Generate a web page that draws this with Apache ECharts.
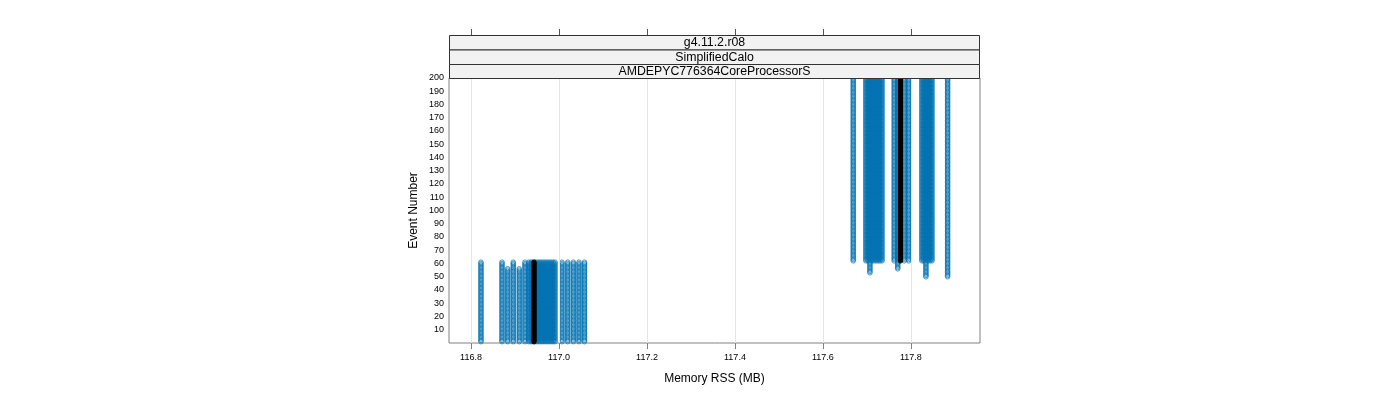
<!DOCTYPE html>
<html>
<head>
<meta charset="utf-8">
<script src="https://cdn.jsdelivr.net/npm/echarts@6/dist/echarts.min.js"></script>
<style>
html,body{margin:0;padding:0;background:#fff;}
#chart{width:1400px;height:400px;}
</style>
</head>
<body>
<div id="chart"></div>
<script>
// ---- data ----
var xTicks = [116.8, 117.0, 117.2, 117.4, 117.6, 117.8];
var yTicks = [10,20,30,40,50,60,70,80,90,100,110,120,130,140,150,160,170,180,190,200];
var stripLabels = ['g4.11.2.r08', 'SimplifiedCalo', 'AMDEPYC776364CoreProcessorS'];

// low-memory phase: memory (MB) of each run, and last event in that phase
var lowMem  = [116.8227, 116.8705, 116.8834, 116.8961, 116.9098, 116.9227, 116.9318,
               116.9364, 116.9409, 116.9455, 116.9500, 116.9545, 116.9591, 116.9636,
               116.9682, 116.9727, 116.9773, 116.9818, 116.9864, 116.9909, 117.0068,
               117.0198, 117.0327, 117.0455, 117.0580];
var lowLast = [61, 61, 56, 61, 56, 61, 61,
               61, 61, 61, 61, 61, 61, 61,
               61, 61, 61, 61, 61, 61, 61,
               61, 61, 61, 61];
// high-memory phase: memory (MB) of each run, and first event in that phase
var highMem   = [117.6689, 117.6977, 117.7023, 117.7068, 117.7114, 117.7159, 117.7205,
                 117.7250, 117.7295, 117.7341, 117.7620, 117.7700, 117.7848, 117.7950,
                 117.8250, 117.8295, 117.8341, 117.8386, 117.8432, 117.8477, 117.8834];
var highFirst = [62, 62, 62, 53, 62, 62, 62,
                 62, 62, 62, 62, 56, 62, 62,
                 62, 62, 50, 62, 62, 62, 50];
// reference run (drawn in black)
var refLowMem = 116.9432, refLowLast = 61;
var refHighMem = 117.7761, refHighFirst = 62;
var lastEvent = 200;

// ---- build points ----
function lowPoints(mem, last){ var p=[]; for(var e=1;e<=last;e++) p.push([mem,e]); return p; }
function highPoints(mem, first){ var p=[]; for(var e=first;e<=lastEvent;e++) p.push([mem,e]); return p; }
var bluePts = [];
lowMem.forEach(function(m,i){ bluePts = bluePts.concat(lowPoints(m, lowLast[i])); });
highMem.forEach(function(m,i){ bluePts = bluePts.concat(highPoints(m, highFirst[i])); });
var blackPts = lowPoints(refLowMem, refLowLast).concat(highPoints(refHighMem, refHighFirst));

var chart = echarts.init(document.getElementById('chart'), null, {renderer:'canvas'});
var GL = 449, GT = 78, GW = 531, GH = 265;
var FONT = 'Liberation Sans';

var graphics = [];
for (var i=0;i<3;i++){
  var y0 = [35, 49.5, 64][i], y1 = [49.5, 64, 78][i];
  graphics.push({type:'rect', zlevel:5, z:100, shape:{x:GL+0.5, y:y0+0.5, width:GW-1, height:y1-y0}, style:{fill:'#f2f2f2', stroke:'#333', lineWidth:1}});
  graphics.push({type:'text', zlevel:5, z:101, x:GL+GW/2, y:(y0+y1)/2+0.5, style:{text:stripLabels[i], fill:'#000', font:'12.3px '+FONT, align:'center', verticalAlign:'middle'}});
}

chart.setOption({
  animation:false,
  backgroundColor:'#fff',
  grid:{left:GL, top:GT, width:GW, height:GH, show:true, borderColor:'#808080', borderWidth:1, backgroundColor:'transparent'},
  xAxis:[{
    type:'value', min:116.75, max:117.957, position:'bottom',
    name:'Memory RSS (MB)', nameLocation:'middle', nameGap:30,
    nameTextStyle:{fontFamily:FONT, fontSize:12, color:'#000'},
    axisLine:{show:false},
    axisTick:{show:true, inside:false, length:6, customValues:xTicks, lineStyle:{color:'#808080'}},
    axisLabel:{customValues:xTicks, fontFamily:FONT, fontSize:9, color:'#000', margin:10,
      formatter:function(v){return v.toFixed(1);}},
    splitLine:{show:false}
  },{
    type:'value', min:116.75, max:117.957, position:'top', offset:43,
    axisLine:{show:false},
    axisTick:{show:true, inside:false, length:6, customValues:xTicks, lineStyle:{color:'#555'}},
    axisLabel:{show:false}, splitLine:{show:false}
  }],
  yAxis:{
    type:'value', min:0, max:200, interval:10,
    name:'Event Number', nameLocation:'middle', nameGap:29,
    nameTextStyle:{fontFamily:FONT, fontSize:12, color:'#000'},
    axisLine:{show:false}, axisTick:{show:false},
    axisLabel:{fontFamily:FONT, fontSize:9, color:'#000', margin:5,
      formatter:function(v){return v===0?'':String(v);}},
    splitLine:{show:false}
  },
  series:[{
    type:'scatter', data:[], xAxisIndex:0, silent:true, z:1,
    markLine:{silent:true, symbol:['none','none'], label:{show:false},
      lineStyle:{color:'#e6e6e6', width:1, type:'solid'},
      data:xTicks.map(function(v){return {xAxis:v};})}
  },{
    type:'scatter', data:bluePts, xAxisIndex:0, symbol:'circle', symbolSize:4.6, z:2, clip:true,
    progressive:0, large:false, silent:true,
    itemStyle:{color:'rgba(0,0,0,0)', borderColor:'#0072B2', borderWidth:0.9}
  },{
    type:'scatter', data:blackPts, xAxisIndex:0, symbol:'circle', symbolSize:4.6, z:3, clip:true,
    progressive:0, large:false, silent:true,
    itemStyle:{color:'#000', borderColor:'#000', borderWidth:1}
  }],
  graphic:{elements:graphics}
});
</script>
</body>
</html>
